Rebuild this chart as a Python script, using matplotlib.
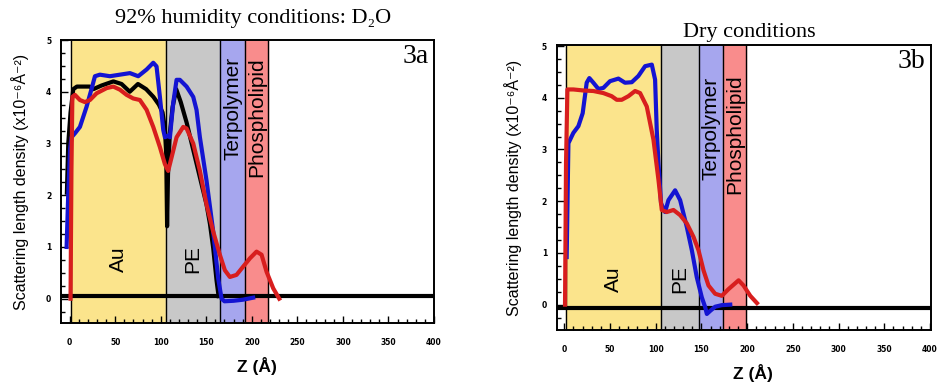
import numpy as np
import matplotlib
matplotlib.use('Agg')
import matplotlib.pyplot as plt
from matplotlib.ticker import MultipleLocator

# ---- data ----
# panel 3a (92% humidity, D2O)
a_black_z = [-3, -1.5, 1, 4, 8, 15, 22, 26, 35, 48, 57, 66, 75, 84, 92, 98, 102, 104.5, 106, 107, 108, 110, 113, 117, 122, 128.5, 134, 139.5, 145, 150.3, 154, 157.6, 161.3, 163.5]
a_black_y = [2.05, 3.0, 3.6, 4.05, 4.1, 4.1, 4.1, 4.05, 4.12, 4.2, 4.15, 4.0, 4.15, 4.05, 3.9, 3.75, 3.6, 3.3, 2.8, 1.4, 2.4, 3.2, 3.7, 4.05, 3.8, 3.4, 3.0, 2.6, 2.2, 1.82, 1.45, 0.98, 0.35, 0.05]
a_blue_z = [-3.3, -1.6, 0.5, 2.1, 6, 11.3, 18.6, 24, 27.8, 33.2, 44.2, 55.2, 66.2, 75.3, 84.5, 91.8, 95.4, 99.1, 102.8, 104.6, 108, 110.1, 113.7, 117.4, 121, 128.4, 135.7, 139.3, 143, 150.3, 157.6, 163.1, 166.8, 170, 180, 190, 201.5]
a_blue_y = [1.0, 1.98, 2.9, 3.12, 3.2, 3.32, 3.71, 4.05, 4.3, 4.33, 4.3, 4.33, 4.36, 4.3, 4.43, 4.56, 4.49, 3.9, 3.26, 3.12, 3.15, 3.12, 3.78, 4.23, 4.23, 4.1, 3.9, 3.65, 3.12, 2.28, 1.3, 0.39, 0.0, -0.05, -0.04, -0.02, 0.02]
a_red_z = [1.0, 2.0, 3.0, 5.8, 11.3, 16.8, 22.3, 29.6, 40.6, 47.9, 55.2, 62.5, 69.8, 77.1, 84.5, 91.8, 99.1, 104.6, 108.2, 111.9, 117.4, 124.7, 128.4, 135.7, 143, 150.3, 157.6, 164.9, 170.4, 175.9, 183.2, 190.5, 197.9, 205.2, 210.7, 216.2, 223.5, 230.1]
a_red_y = [0.0, 2.5, 3.9, 3.94, 3.84, 3.8, 3.84, 3.97, 4.07, 4.1, 4.04, 3.94, 3.87, 3.84, 3.65, 3.32, 2.93, 2.6, 2.47, 2.73, 3.12, 3.32, 3.29, 3.0, 2.47, 1.82, 1.3, 0.85, 0.55, 0.42, 0.46, 0.62, 0.78, 0.91, 0.85, 0.52, 0.2, 0.0]
a_zero = 0.05
a_bands = [1.5, 105.5, 165.5, 192.5, 218]

# panel 3b (dry)
b_blue_z = [2.6, 4.5, 9.9, 15.4, 20.1, 24.5, 27.4, 31.8, 37.3, 42.7, 50, 59.2, 66.4, 73.8, 81, 88.4, 95.7, 99.3, 101.1, 103, 105.8, 110.2, 113.9, 121.2, 126.7, 134, 139.5, 144.9, 150.4, 154.1, 155.9, 159.6, 165, 172.3, 181.5]
b_blue_y = [0.92, 3.12, 3.32, 3.45, 3.7, 4.29, 4.38, 4.29, 4.17, 4.19, 4.32, 4.37, 4.29, 4.3, 4.42, 4.61, 4.64, 4.35, 3.38, 2.73, 1.96, 1.79, 2.02, 2.21, 2.02, 1.5, 1.05, 0.53, 0.14, -0.05, -0.18, -0.12, -0.04, -0.01, 0.0]
b_red_z = [0.8, 1.9, 3.4, 9.9, 20.9, 31.8, 42.7, 51.8, 57.4, 62.8, 70.1, 77.4, 82.9, 90.2, 97.5, 103, 106.6, 112, 119.4, 126.7, 134, 141.3, 146.8, 152.3, 157.7, 165, 172.3, 179.6, 190.6, 196, 203.4, 210.7]
b_red_y = [0.0, 2.73, 4.16, 4.16, 4.14, 4.13, 4.09, 4.03, 3.96, 3.96, 4.03, 4.13, 4.09, 3.83, 3.19, 2.41, 1.83, 1.79, 1.83, 1.73, 1.57, 1.31, 1.05, 0.66, 0.37, 0.21, 0.17, 0.3, 0.47, 0.37, 0.17, 0.03]
b_zero = -0.06
b_bands = [2.0, 105.5, 147, 173.5, 199]

band_names = ['Au', 'PE', 'Terpolymer', 'Phospholipid']
band_colors = ['#fbe48c', '#c8c8c8', '#a6a6ee', '#f98c8c']

sans = ['Liberation Sans', 'DejaVu Sans']
serif = ['Liberation Serif', 'DejaVu Serif']

fig = plt.figure(figsize=(9.38, 3.85), dpi=100)

def draw_panel(rect, xlim, ylim, bands, zero, curves, title, tag, title_y, ylab_x, xlab_y, lab_y):
    ax = fig.add_axes(rect)
    for i in range(4):
        ax.axvspan(bands[i], bands[i+1], color=band_colors[i], zorder=0)
    for b in bands:
        ax.axvline(b, color='black', lw=1.0, zorder=1)
    for i, name in enumerate(band_names):
        ax.text((bands[i] + bands[i+1]) / 2, lab_y[i], name, rotation=90, ha='center', va='center',
                fontsize=15, family=sans, zorder=2)
    ax.axhline(zero, color='black', lw=3.0, zorder=3)
    for z, y, c in curves:
        ax.plot(z, y, color=c, lw=3.0, zorder=4, solid_joinstyle='round')
    ax.set_xlim(xlim)
    ax.set_ylim(ylim)
    ax.set_xticks(np.arange(0, 401, 50))
    ax.set_yticks(np.arange(0, 6, 1))
    ax.xaxis.set_minor_locator(MultipleLocator(10))
    ax.yaxis.set_minor_locator(MultipleLocator(0.25))
    ax.tick_params(direction='in', which='both', top=False, right=False, width=1.0)
    ax.tick_params(which='major', length=5)
    ax.tick_params(which='minor', length=3)
    ax.tick_params(axis='x', pad=11, labelsize=5.5)
    ax.tick_params(axis='y', pad=7, labelsize=5.5)
    for lab in ax.get_xticklabels() + ax.get_yticklabels():
        lab.set_fontweight('bold')
    for s in ax.spines.values():
        s.set_linewidth(1.4)
    ax.text(0.985, 0.985, tag, transform=ax.transAxes, ha='right', va='top',
            fontsize=20, family=serif)
    cx = rect[0] + rect[2] / 2
    fig.text(cx + 0.006, title_y, title, ha='center', va='center', fontsize=16, family=serif)
    fig.text(ylab_x, rect[1] + rect[3] / 2, 'Scattering length density (x10⁻⁶Å⁻²)',
             rotation=90, ha='center', va='center', fontsize=11.5, family=sans)
    fig.text(cx + 0.01, xlab_y, 'Z (Å)', ha='center', va='center', fontsize=12.5,
             family=sans, fontweight='bold')
    return ax

draw_panel([0.0650, 0.1610, 0.3977, 0.7351], (-9.5, 400), (-0.47, 5.0), a_bands, a_zero,
           [(a_black_z, a_black_y, 'black'), (a_blue_z, a_blue_y, '#1414d2'), (a_red_z, a_red_y, '#d81e1e')],
           '92% humidity conditions: D₂O', '3a', 1 - 18 / 385, 20 / 938, 1 - 366 / 385,
           [0.77, 0.77, 3.67, 3.5])

draw_panel([0.5935, 0.1429, 0.3990, 0.7403], (-8.3, 401), (-0.49, 5.02), b_bands, b_zero,
           [(b_blue_z, b_blue_y, '#1414d2'), (b_red_z, b_red_y, '#d81e1e')],
           'Dry conditions', '3b', 1 - 32 / 385, 513 / 938, 1 - 373 / 385,
           [0.5, 0.5, 3.4, 3.3])

fig.savefig('out.png', dpi=100)
